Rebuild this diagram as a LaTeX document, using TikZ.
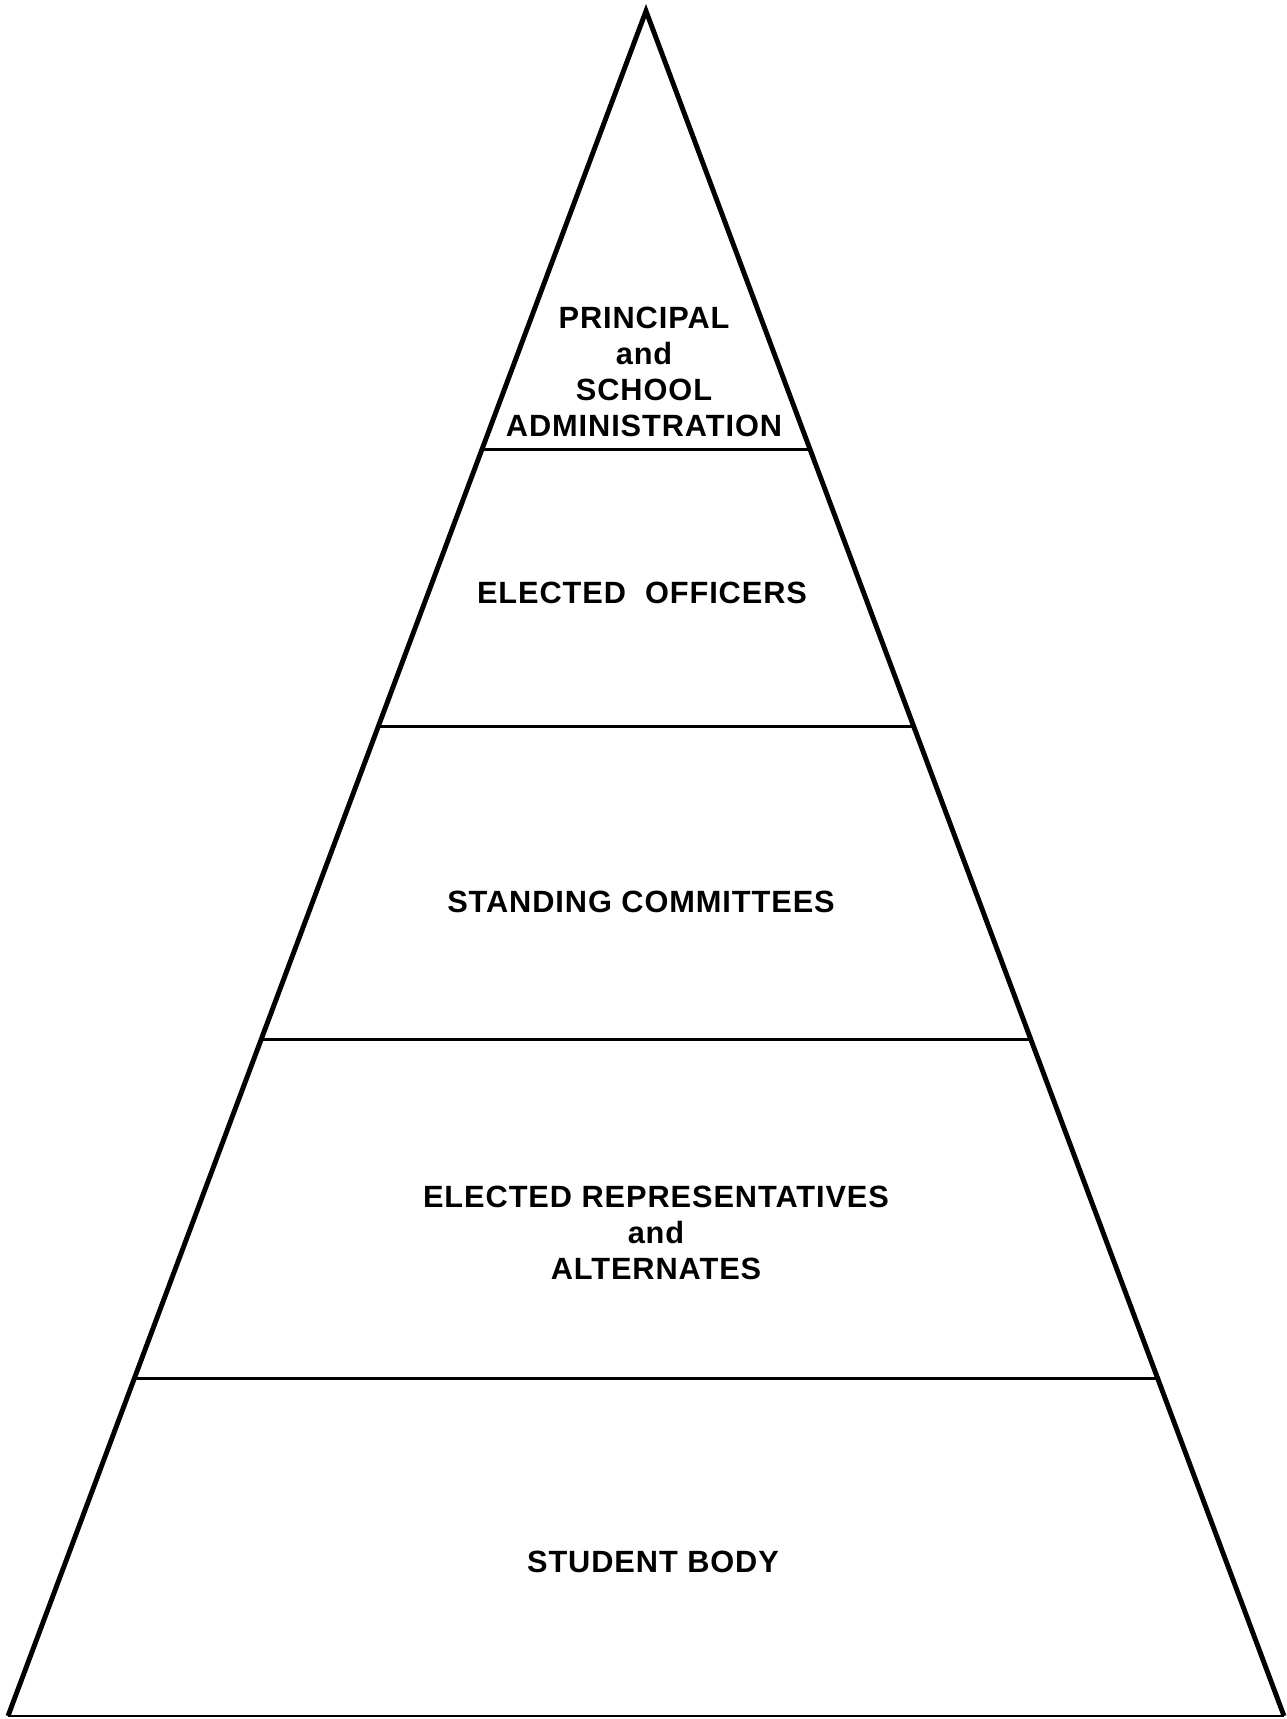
\documentclass[tikz,border=0pt]{standalone}
\usepackage{fontspec}
\setmainfont{Liberation Sans}
\newfontfamily\layerfont[LetterSpace=3]{Liberation Sans}
\usepackage{tikz}
\usetikzlibrary{positioning, calc}
\tikzset{
  side/.style = {line width=2.8pt, line join=miter},
  divider/.style = {line width=1.8pt},
  layer/.style = {align=center, font=\layerfont\bfseries\fontsize{17.5}{20.5}\selectfont, inner sep=0pt}
}

\begin{document}
\begin{tikzpicture}[x=0.02cm, y=-0.02cm]
    \useasboundingbox (0,0) rectangle (1286,1719);

    \coordinate (apex) at (646,11);
    \coordinate (bl)   at (8,1716);
    \coordinate (br)   at (1284,1716);

    % dividers along the two sides
    \coordinate (l1) at ($(apex)!0.2573!(bl)$);
    \coordinate (r1) at ($(apex)!0.2573!(br)$);
    \coordinate (l2) at ($(apex)!0.4197!(bl)$);
    \coordinate (r2) at ($(apex)!0.4197!(br)$);
    \coordinate (l3) at ($(apex)!0.6032!(bl)$);
    \coordinate (r3) at ($(apex)!0.6032!(br)$);
    \coordinate (l4) at ($(apex)!0.8019!(bl)$);
    \coordinate (r4) at ($(apex)!0.8019!(br)$);

    \draw[side] (bl) -- (apex) -- (br);
    \draw[line width=1.2pt] (bl) -- (br);

    \draw[divider] (l1) -- (r1);
    \draw[divider] (l2) -- (r2);
    \draw[divider] (l3) -- (r3);
    \draw[divider] (l4) -- (r4);

    \node[layer] (principal) at (644,372) {PRINCIPAL\\and\\SCHOOL\\ADMINISTRATION};
    \node[layer] (officers) at (642,593) {ELECTED\ \ OFFICERS};
    \node[layer] (committees) at (641,902) {STANDING COMMITTEES};
    \node[layer] (reps) at (656,1233) {ELECTED REPRESENTATIVES\\and\\ALTERNATES};
    \node[layer] (students) at (653,1562) {STUDENT BODY};

\end{tikzpicture}
\end{document}
